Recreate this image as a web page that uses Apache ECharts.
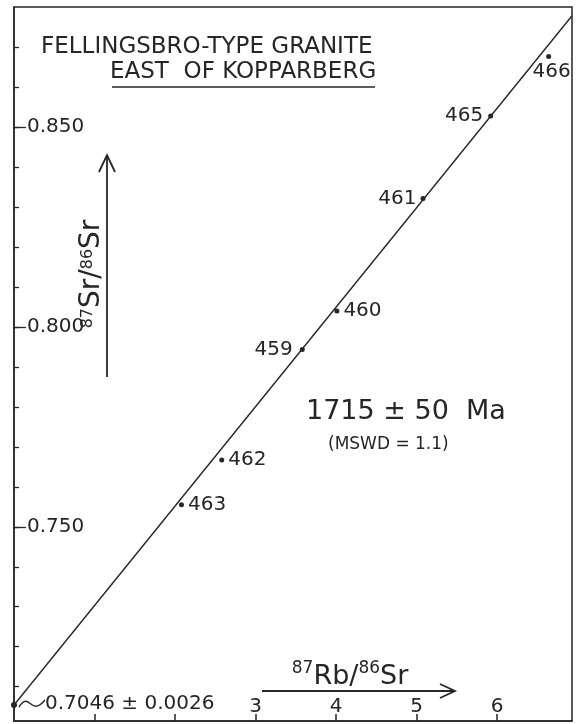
<!DOCTYPE html>
<html><head><meta charset="utf-8">
<script src="https://cdn.jsdelivr.net/npm/echarts@6/dist/echarts.min.js"></script>
<style>html,body{margin:0;padding:0;background:#fff}#c{width:576px;height:724px}</style>
</head><body><div id="c"></div>
<script>
// ---- data ----
const sampleIds = ['463', '462', '459', '460', '461', '465', '466'];
const rbSr = [2.08, 2.58, 3.58, 4.01, 5.08, 5.92, 6.64];
const srSr = [0.7555, 0.7667, 0.7944, 0.8040, 0.8322, 0.8528, 0.8677];
const isochronX = [0, 6.93];
const isochronY = [0.7054, 0.8779];
const interceptX = [0];
const interceptY = [0.7054];
const xTickValues = [1, 2, 3, 4, 5, 6];
const xLabelValues = [3, 4, 5, 6];
const yMinorTickValues = [0.71, 0.72, 0.73, 0.74, 0.75, 0.76, 0.77, 0.78, 0.79, 0.80, 0.81, 0.82, 0.83, 0.84, 0.85, 0.86, 0.87];
const yMajorValues = [0.75, 0.80, 0.85];
const xRange = [0, 6.93];
const yRange = [0.7014, 0.8801];

// ---- style config ----
const INK = '#262626';
const FONT = 'DejaVu Sans';
const labelStyle = {
  '463': {position: 'right', distance: 4},
  '462': {position: 'right', distance: 4},
  '459': {position: 'left', distance: 7},
  '460': {position: 'right', distance: 4},
  '461': {position: 'left', distance: 4},
  '465': {position: 'left', distance: 5},
  '466': {position: 'bottom', distance: 3, offset: [3, 0]}
};

const chart = echarts.init(document.getElementById('c'), null, {renderer: 'canvas'});

const points = sampleIds.map((id, i) => ({
  value: [rbSr[i], srSr[i]],
  name: id,
  label: Object.assign({show: true, formatter: id, color: INK, opacity: 1, fontFamily: FONT, fontSize: 20}, labelStyle[id])
}));

const axisCommon = {
  type: 'value',
  splitLine: {show: false},
  axisLine: {show: true, onZero: false, lineStyle: {color: INK, width: 1.5}}
};

const option = {
  backgroundColor: '#ffffff',
  animation: false,
  grid: {left: 14, right: 4, top: 7, bottom: 3, show: true, borderColor: INK, borderWidth: 1.5, containLabel: false},
  xAxis: Object.assign({}, axisCommon, {
    min: xRange[0], max: xRange[1],
    axisTick: {show: true, inside: true, length: 7, customValues: xTickValues, lineStyle: {color: INK, width: 1.5}},
    axisLabel: {show: true, inside: true, margin: 4, customValues: xLabelValues, color: INK, fontFamily: FONT, fontSize: 20,
      formatter: v => String(Math.round(v))}
  }),
  yAxis: [
    Object.assign({}, axisCommon, {
      min: yRange[0], max: yRange[1],
      axisTick: {show: true, inside: true, length: 5, customValues: yMinorTickValues, lineStyle: {color: INK, width: 1.3}},
      axisLabel: {show: false}
    }),
    Object.assign({}, axisCommon, {
      min: yRange[0], max: yRange[1], position: 'left',
      axisLine: {show: false},
      axisTick: {show: true, inside: true, length: 12, customValues: yMajorValues, lineStyle: {color: INK, width: 1.3}},
      axisLabel: {show: true, inside: true, margin: 13, customValues: yMajorValues, color: INK, fontFamily: FONT, fontSize: 20,
        formatter: v => v.toFixed(3)}
    })
  ],
  series: [
    {
      type: 'line', name: 'isochron', silent: true, symbol: 'none', z: 2,
      data: isochronX.map((x, i) => [x, isochronY[i]]),
      lineStyle: {color: INK, width: 1.4}
    },
    {
      type: 'scatter', name: 'samples', silent: true, z: 3,
      symbol: 'circle', symbolSize: 5,
      itemStyle: {color: INK, opacity: 1},
      data: points
    },
    {
      type: 'scatter', name: 'intercept', silent: true, z: 3, clip: false,
      symbol: 'circle', symbolSize: 6,
      itemStyle: {color: INK, opacity: 1},
      label: {show: true, position: 'right', distance: 28, offset: [0, -1], formatter: '0.7046 ± 0.0026',
        color: INK, opacity: 1, fontFamily: FONT, fontSize: 20},
      data: interceptX.map((x, i) => [x, interceptY[i]])
    }
  ],
  graphic: [
    {type: 'text', left: 41, top: 36, style: {text: 'FELLINGSBRO-TYPE GRANITE', fill: INK, font: '23px "DejaVu Sans"'}},
    {type: 'text', left: 110, top: 61, style: {text: 'EAST  OF KOPPARBERG', fill: INK, font: '23px "DejaVu Sans"'}},
    {type: 'line', shape: {x1: 112, y1: 87, x2: 375, y2: 87}, style: {stroke: INK, lineWidth: 1.6}},
    {type: 'text', left: 306, top: 398, style: {text: '1715 ± 50  Ma', fill: INK, font: '27px "DejaVu Sans"'}},
    {type: 'text', left: 328, top: 436, style: {text: '(MSWD = 1.1)', fill: INK, font: '17px "DejaVu Sans"'}},
    // y axis title (rotated)
    {type: 'text', x: 93, y: 274, rotation: Math.PI / 2,
      style: {text: '{s|87}{n|Sr/}{s|86}{n|Sr}', align: 'center', verticalAlign: 'middle', fill: INK,
        rich: {n: {fontSize: 28, fontFamily: FONT, fill: INK, lineHeight: 26, verticalAlign: 'bottom'},
               s: {fontSize: 16, fontFamily: FONT, fill: INK, lineHeight: 26, verticalAlign: 'top'}}}},
    // x axis title
    {type: 'text', x: 350, y: 675,
      style: {text: '{s|87}{n|Rb/}{s|86}{n|Sr}', align: 'center', verticalAlign: 'middle', fill: INK,
        rich: {n: {fontSize: 27, fontFamily: FONT, fill: INK, lineHeight: 30, verticalAlign: 'bottom'},
               s: {fontSize: 17, fontFamily: FONT, fill: INK, lineHeight: 30, verticalAlign: 'top'}}}},
    // arrows
    {type: 'polyline', shape: {points: [[107, 377], [107, 156]]}, style: {stroke: INK, lineWidth: 1.8, fill: null}},
    {type: 'polyline', shape: {points: [[99, 172], [107, 155], [115, 172]]}, style: {stroke: INK, lineWidth: 1.8, fill: null}},
    {type: 'polyline', shape: {points: [[262, 691], [454, 691]]}, style: {stroke: INK, lineWidth: 1.8, fill: null}},
    {type: 'polyline', shape: {points: [[440, 684], [455, 691], [440, 698]]}, style: {stroke: INK, lineWidth: 1.8, fill: null}},
    // squiggle from intercept to its label
    {type: 'bezierCurve', shape: {x1: 19, y1: 707, cpx1: 30, cpy1: 690, cpx2: 30, cpy2: 718, x2: 45, y2: 700},
      style: {stroke: INK, lineWidth: 1.4, fill: null}}
  ]
};
chart.setOption(option);
</script>
</body></html>
